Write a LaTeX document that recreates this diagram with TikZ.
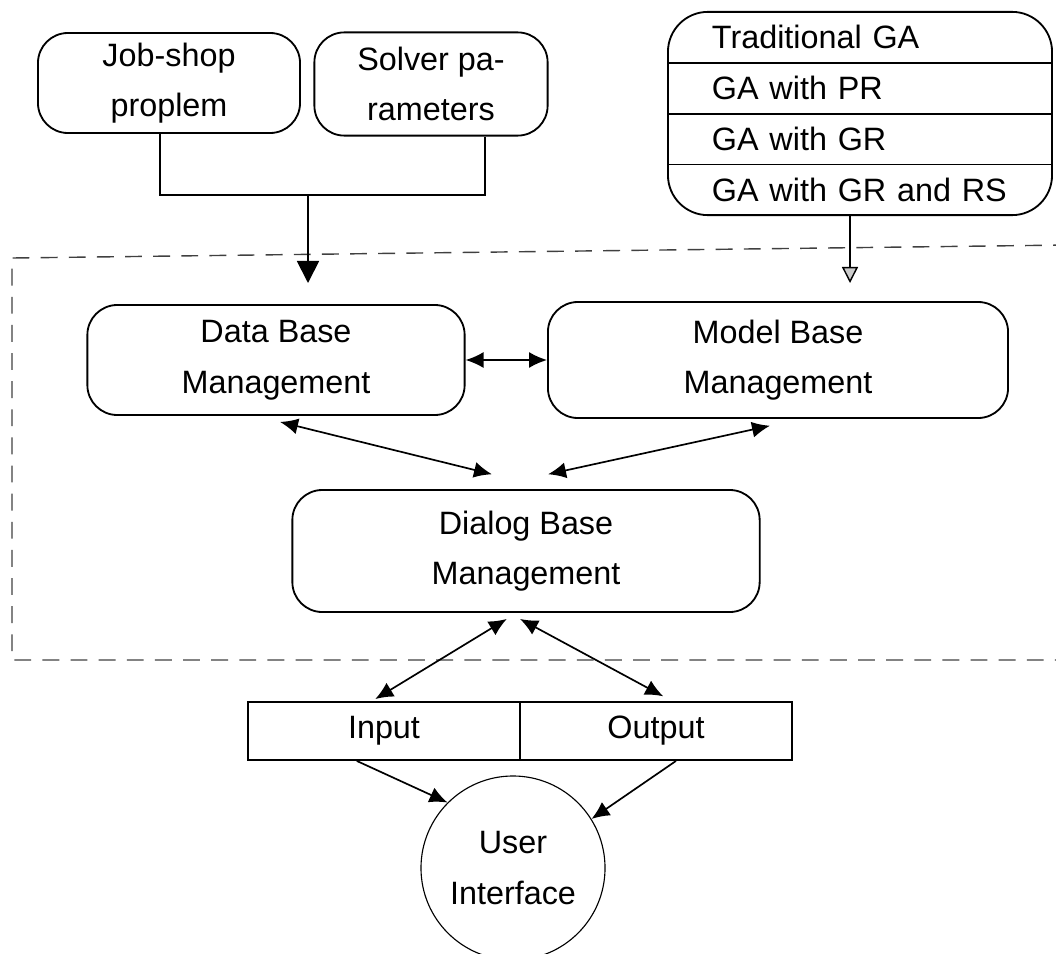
\documentclass[tikz,border=0pt]{standalone}
\usepackage{fontspec}
\setmainfont{Liberation Sans}
\usepackage{tikz}
\usetikzlibrary{shapes.geometric, arrows.meta, positioning}

\newcommand{\diagfont}{\fontsize{23}{36}\selectfont}

\begin{document}
\begin{tikzpicture}[x=0.025cm, y=-0.025cm,
    mgmtbox/.style={rectangle, draw, line width=1.3pt, rounded corners=0.75cm, align=center, font=\diagfont, inner sep=2pt},
    garow/.style={rectangle, minimum height=1.27cm, text width=7.4cm, inner xsep=1.1cm, inner ysep=0pt, align=left, font=\diagfont},
    iocell/.style={rectangle, draw, line width=1.3pt, minimum width=6.8cm, minimum height=1.45cm, font=\diagfont},
    dblarrow/.style={{Latex[length=4.5mm,width=4mm]}-{Latex[length=4.5mm,width=4mm]}, line width=1.2pt},
    onearrow/.style={-{Latex[length=4.5mm,width=4mm]}, line width=1.2pt}]

    % Page frame
    \useasboundingbox (0,0) rectangle (1056,953);
    \clip (0,0) rectangle (1056,953);

    % Dashed system boundary
    \draw[dashed, dash pattern=on 12pt off 8pt, line width=1pt, gray!50!black] (1070,245) -- (12,258) -- (12,660) -- (1070,660);

    % Input boxes
    \node[mgmtbox, minimum width=6.55cm, minimum height=2.5cm] (job) at (169,83) {Job-shop\\proplem};
    \node[mgmtbox, minimum width=5.83cm, minimum height=2.58cm] (solver) at (431,84) {Solver pa-\\rameters};

    % GA variants
    \node[mgmtbox, rounded corners=1cm, minimum width=9.6cm, minimum height=5.08cm] (ga) at (860,113.5) {};
    \node[garow] (ga1) at (860,37.4) {Traditional GA};
    \node[garow] (ga2) at (860,88.2) {GA with PR};
    \node[garow] (ga3) at (860,139) {GA with GR};
    \node[garow] (ga4) at (860,189.8) {GA with GR and RS};
    \foreach \r in {1,2,3}
        \draw[line width=1pt] (ga\r.south west) -- (ga\r.south east);

    % Management modules
    \node[mgmtbox, minimum width=9.43cm, minimum height=2.75cm] (db) at (276,360) {Data Base\\Management};
    \node[mgmtbox, minimum width=11.5cm, minimum height=2.9cm] (model) at (778,360) {Model Base\\Management};
    \node[mgmtbox, minimum width=11.68cm, minimum height=3.05cm] (dialog) at (526,551) {Dialog Base\\Management};

    % Input / Output bar
    \node[iocell] (in) at (384,731) {Input};
    \node[iocell] (out) at (656,731) {Output};

    % User interface
    \node[circle, draw, line width=0.8pt, minimum size=4.6cm, align=center, font=\diagfont] (ui) at (513,868) {User\\Interface};

    % Arrows
    \coordinate (merge) at (308,195);
    \coordinate (dbin) at (308,283);
    \coordinate (gain) at (850,283);
    \draw[line width=1.3pt] ([xshift=-0.225cm]job.south) |- (merge) -| ([xshift=1.34cm]solver.south);
    \draw[-{Triangle[length=5.5mm,width=5.5mm]}, line width=1.3pt] (merge) -- (dbin);
    \draw[-{Triangle[length=4mm,width=4mm,fill=gray!40]}, line width=1pt] (ga.south -| gain) -- (gain);

    \draw[dblarrow] (db) -- (model);
    \draw[dblarrow] ([xshift=0.1cm,yshift=-0.15cm]db.south) -- ([xshift=-0.85cm,yshift=0.37cm]dialog.north);
    \draw[dblarrow] ([xshift=-0.2cm,yshift=-0.17cm]model.south) -- ([xshift=0.55cm,yshift=0.37cm]dialog.north);
    \draw[dblarrow] ([xshift=-0.48cm,yshift=-0.15cm]dialog.south) -- ([xshift=-0.22cm,yshift=0.05cm]in.north);
    \draw[dblarrow] ([xshift=-0.15cm,yshift=-0.15cm]dialog.south) -- ([xshift=0.18cm,yshift=0.12cm]out.north);
    \draw[onearrow] ([xshift=-0.68cm]in.south) -- (ui.135);
    \draw[onearrow] ([xshift=0.5cm]out.south) -- (ui.32);

\end{tikzpicture}
\end{document}
